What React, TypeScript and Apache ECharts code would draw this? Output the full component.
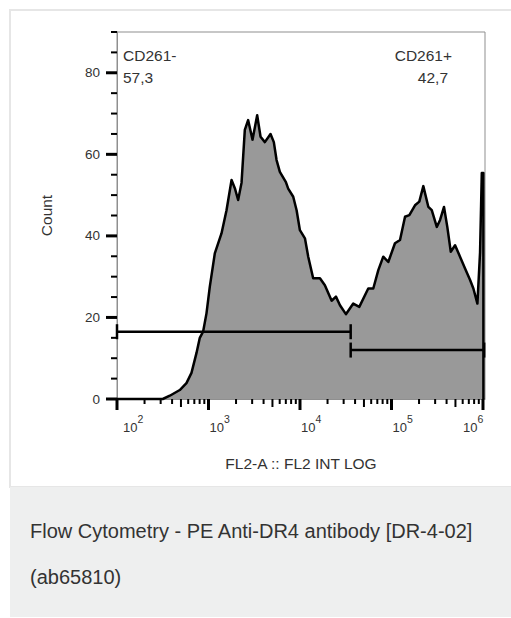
import React, { useEffect, useRef } from "react";
import * as echarts from "echarts";

// FL2-A intensity as log10 exponent, and event counts
const fl2Log = [
  2.0, 2.5, 2.577, 2.686, 2.759, 2.814, 2.869, 2.905, 2.941, 2.978, 3.014, 3.069,
  3.142, 3.197, 3.252, 3.288, 3.324, 3.361, 3.397, 3.433, 3.481, 3.532, 3.569,
  3.616, 3.678, 3.714, 3.744, 3.78, 3.846, 3.871, 3.926, 3.963, 3.999, 4.054,
  4.09, 4.144, 4.218, 4.272, 4.346, 4.393, 4.437, 4.502, 4.582, 4.648, 4.746,
  4.801, 4.856, 4.91, 4.965, 5.038, 5.093, 5.148, 5.195, 5.257, 5.304, 5.348,
  5.403, 5.44, 5.495, 5.531, 5.574, 5.61, 5.648, 5.695, 5.749, 5.804, 5.859,
  5.895, 5.939, 5.968, 5.987, 6.004, 6.005,
];
const counts = [
  0, 0, 0.8, 2.2, 3.9, 6.4, 11.3, 15.0, 16.5, 21.0, 27.5, 35.7,
  40.6, 46.3, 53.7, 51.7, 48.8, 53.0, 66.0, 68.4, 63.6, 69.6, 64.3,
  63.0, 65.0, 63.0, 58.6, 55.7, 53.2, 51.6, 49.6, 46.3, 41.4, 39.4,
  34.9, 29.6, 29.6, 27.9, 24.1, 25.1, 23.0, 20.8, 23.4, 22.6, 27.1,
  27.1, 31.6, 34.9, 33.6, 38.2, 39.0, 44.7, 45.1, 47.5, 48.4, 52.2,
  47.1, 46.3, 42.2, 43.9, 47.1, 42.2, 36.1, 37.7, 34.9, 32.0, 29.2,
  27.1, 23.4, 36.0, 55.4, 55.4, 0,
];

// Gates
const gateNames = ["CD261-", "CD261+"];
const gatePercents = ["57,3", "42,7"];
const gateStartLog = [2.0, 4.554];
const gateEndLog = [4.554, 6.013];
const gateLevel = [16.5, 12.0];

// Axes
const xDecades = [2, 3, 4, 5, 6];
const minorMultipliers = [2, 3, 4, 5, 6, 7, 8, 9];
const yMajorTicks = [0, 20, 40, 60, 80];
const yMinorTicks = [5, 10, 15, 25, 30, 35, 45, 50, 55, 65, 70, 75, 85, 90];
const xMin = 2;
const xMax = 6.022;
const yMin = 0;
const yMax = 90;

const FONT = '"Liberation Sans", Arial, Helvetica, sans-serif';
const TEXT = "#333333";

export default function App() {
  const ref = useRef<HTMLDivElement>(null);

  useEffect(() => {
    if (!ref.current) return;
    const chart = echarts.init(ref.current, undefined, { renderer: "svg" });

    const histData = fl2Log.map((x, i) => [x, counts[i]]);
    const gateData = gateNames.map((_, i) => [gateStartLog[i], gateLevel[i], gateEndLog[i]]);

    // x ticks: kind 0 = decade, 1 = half-decade (5), 2 = minor
    const xTickData: number[][] = [];
    xDecades.forEach((d) => xTickData.push([d, 0, 0]));
    xDecades.slice(0, -1).forEach((d) => {
      minorMultipliers.forEach((m) => {
        xTickData.push([d + Math.log10(m), 0, m === 5 ? 1 : 2]);
      });
    });
    const yTickData: number[][] = [];
    yMajorTicks.forEach((v) => yTickData.push([xMin, v, 0]));
    yMinorTicks.forEach((v) => yTickData.push([xMin, v, 1]));

    const annStyle = (text: string, align: string) => ({
      text,
      fontSize: 15.5,
      fontFamily: FONT,
      fill: TEXT,
      align,
      verticalAlign: "middle",
      textAlign: align,
      textVerticalAlign: "middle",
    });

    const option: any = {
      animation: false,
      grid: {
        left: 117,
        top: 32,
        width: 368,
        height: 367,
        show: true,
        borderColor: "#8f8f8f",
        borderWidth: 1,
        backgroundColor: "transparent",
      },
      xAxis: {
        type: "value",
        min: xMin,
        max: xMax,
        interval: 1,
        axisLine: { show: true, onZero: false, lineStyle: { color: "#8f8f8f", width: 1 } },
        axisTick: { show: false },
        axisLabel: { show: false },
        splitLine: { show: false },
        name: "FL2-A :: FL2 INT LOG",
        nameLocation: "middle",
        nameGap: 56,
        nameTextStyle: { fontFamily: FONT, fontSize: 15.5, color: TEXT },
      },
      yAxis: {
        type: "value",
        min: yMin,
        max: yMax,
        interval: 20,
        axisLine: { show: true, lineStyle: { color: "#8f8f8f", width: 1 } },
        axisTick: { show: false },
        axisLabel: {
          margin: 17,
          fontSize: 13.5,
          fontFamily: FONT,
          color: TEXT,
          showMaxLabel: false,
        },
        splitLine: { show: false },
        name: "Count",
        nameLocation: "middle",
        nameGap: 63,
        nameRotate: 90,
        nameTextStyle: { fontFamily: FONT, fontSize: 15.5, color: TEXT },
      },
      series: [
        {
          type: "line",
          data: histData,
          symbol: "none",
          showSymbol: false,
          clip: false,
          z: 2,
          lineStyle: { color: "#000000", width: 2.5, join: "round" },
          areaStyle: { color: "#999999", opacity: 1 },
        },
        {
          type: "custom",
          data: gateData,
          clip: false,
          silent: true,
          z: 3,
          renderItem: (params: any, api: any) => {
            const p1 = api.coord([api.value(0), api.value(1)]);
            const p2 = api.coord([api.value(2), api.value(1)]);
            const h = 7.5;
            const st = { stroke: "#000000", lineWidth: 2.5 };
            return {
              type: "group",
              children: [
                { type: "line", shape: { x1: p1[0], y1: p1[1], x2: p2[0], y2: p2[1] }, style: st },
                { type: "line", shape: { x1: p1[0], y1: p1[1] - h, x2: p1[0], y2: p1[1] + h }, style: st },
                { type: "line", shape: { x1: p2[0], y1: p2[1] - h, x2: p2[0], y2: p2[1] + h }, style: st },
              ],
            };
          },
        },
        {
          type: "custom",
          data: xTickData,
          clip: false,
          silent: true,
          z: 4,
          renderItem: (params: any, api: any) => {
            const p = api.coord([api.value(0), yMin]);
            const k = api.value(2);
            const len = k === 0 ? 11 : k === 1 ? 8 : 5;
            const w = k === 0 ? 3 : 2;
            return {
              type: "line",
              shape: { x1: p[0], y1: p[1], x2: p[0], y2: p[1] + len },
              style: { stroke: "#000000", lineWidth: w },
            };
          },
        },
        {
          type: "custom",
          data: yTickData,
          clip: false,
          silent: true,
          z: 4,
          renderItem: (params: any, api: any) => {
            const p = api.coord([xMin, api.value(1)]);
            const k = api.value(2);
            const len = k === 0 ? 11 : 6;
            const w = k === 0 ? 3 : 2;
            return {
              type: "line",
              shape: { x1: p[0] - len, y1: p[1], x2: p[0], y2: p[1] },
              style: { stroke: "#000000", lineWidth: w },
            };
          },
        },
        {
          type: "custom",
          data: xDecades.map((d) => [d, yMin]),
          clip: false,
          silent: true,
          z: 4,
          renderItem: (params: any, api: any) => {
            const d = api.value(0);
            const p = api.coord([d, yMin]);
            const cs = params.coordSys;
            const labelW = 22;
            let left = p[0] + 1;
            if (left < cs.x + 6) left = cs.x + 6;
            if (left + labelW > cs.x + cs.width) left = cs.x + cs.width - labelW;
            return {
              type: "group",
              children: [
                {
                  type: "text",
                  x: left,
                  y: p[1] + 28,
                  style: {
                    text: "10",
                    fontSize: 13,
                    fontFamily: FONT,
                    fill: TEXT,
                    align: "left",
                    verticalAlign: "middle",
                    textAlign: "left",
                    textVerticalAlign: "middle",
                  },
                },
                {
                  type: "text",
                  x: left + 14.5,
                  y: p[1] + 20,
                  style: {
                    text: String(d),
                    fontSize: 10.5,
                    fontFamily: FONT,
                    fill: TEXT,
                    align: "left",
                    verticalAlign: "middle",
                    textAlign: "left",
                    textVerticalAlign: "middle",
                  },
                },
              ],
            };
          },
        },
      ],
      graphic: [
        { type: "text", x: 123, y: 55, style: annStyle(gateNames[0], "left") },
        { type: "text", x: 123, y: 77.5, style: annStyle(gatePercents[0], "left") },
        { type: "text", x: 452, y: 55, style: annStyle(gateNames[1], "right") },
        { type: "text", x: 448, y: 77.5, style: annStyle(gatePercents[1], "right") },
      ],
    };

    chart.setOption(option);
    return () => chart.dispose();
  }, []);

  return (
    <div
      style={{
        position: "fixed",
        left: 0,
        top: 0,
        width: 511,
        height: 618,
        overflow: "hidden",
        background: "#ffffff",
      }}
    >
      <div
        style={{
          position: "absolute",
          left: 9,
          top: 9,
          width: 560,
          height: 479,
          boxSizing: "border-box",
          border: "2px solid #e6e6e6",
          background: "#ffffff",
        }}
      />
      <div
        style={{
          position: "absolute",
          left: 10,
          top: 487,
          width: 560,
          height: 130,
          boxSizing: "border-box",
          background: "#eeefef",
          paddingLeft: 20,
          paddingTop: 21,
        }}
      >
        <div
          style={{
            width: 460,
            fontFamily: FONT,
            fontSize: 20,
            lineHeight: "46px",
            color: "#333333",
          }}
        >
          Flow Cytometry - PE Anti-DR4 antibody [DR-4-02] (ab65810)
        </div>
      </div>
      <div
        ref={ref}
        style={{ position: "absolute", left: 0, top: 0, width: 511, height: 487 }}
      />
    </div>
  );
}
